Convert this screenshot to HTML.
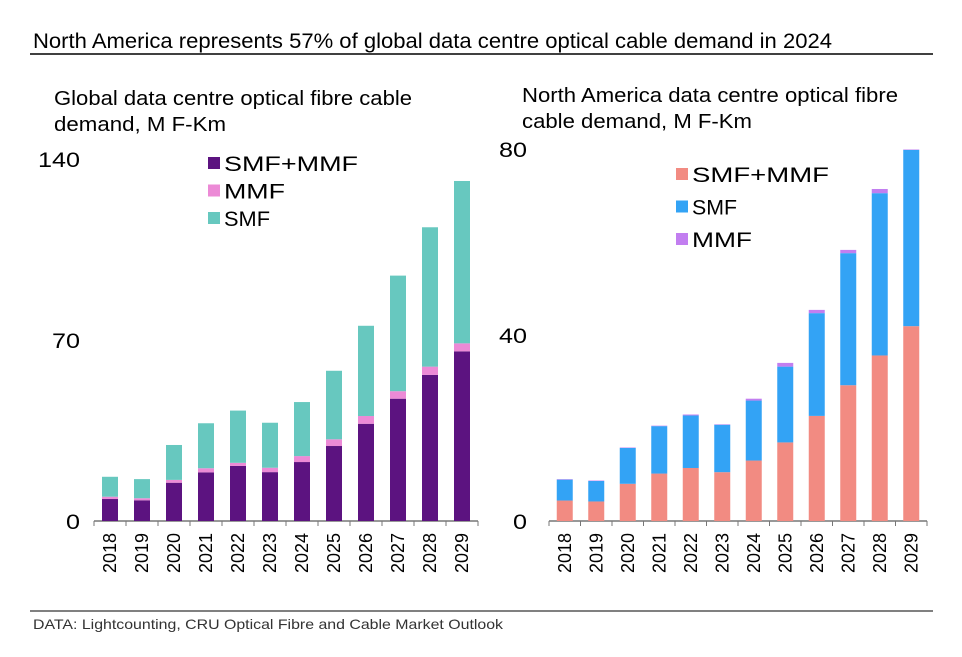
<!DOCTYPE html>
<html><head><meta charset="utf-8"><style>
body{margin:0;background:#fff;font-family:"Liberation Sans",Arial,sans-serif}
svg{display:block}
</style></head><body>
<svg id="c" width="962" height="657" xmlns="http://www.w3.org/2000/svg" font-family="Liberation Sans, Arial, sans-serif">
<text x="33" y="48" font-size="21" textLength="799" lengthAdjust="spacingAndGlyphs" fill="#000">North America represents 57% of global data centre optical cable demand in 2024</text>
<line x1="30" y1="54" x2="933" y2="54" stroke="#000" stroke-width="1.5"/>
<text x="54" y="105" font-size="20" textLength="358" lengthAdjust="spacingAndGlyphs">Global data centre optical fibre cable</text>
<text x="54" y="131" font-size="20" textLength="172" lengthAdjust="spacingAndGlyphs">demand, M F-Km</text>
<text x="522" y="102" font-size="20" textLength="376" lengthAdjust="spacingAndGlyphs">North America data centre optical fibre</text>
<text x="522" y="128" font-size="20" textLength="230" lengthAdjust="spacingAndGlyphs">cable demand, M F-Km</text>
<line x1="30" y1="611" x2="933" y2="611" stroke="#000" stroke-width="1"/>
<text x="33" y="629" font-size="14" textLength="470" lengthAdjust="spacingAndGlyphs" fill="#333">DATA: Lightcounting, CRU Optical Fibre and Cable Market Outlook</text>
<g id="left"></g><g id="right"></g>
</svg>
<script>
const years=["2018","2019","2020","2021","2022","2023","2024","2025","2026","2027","2028","2029"];
const globalBoth=[8.5,8.0,14.8,18.8,21.3,18.9,22.8,29.0,37.6,47.3,56.5,65.6];
const globalMMF=[0.9,0.8,1.1,1.6,1.2,1.7,2.3,2.6,3.0,2.9,3.2,3.1];
const globalSMF=[7.7,7.4,13.5,17.4,20.2,17.4,20.9,26.5,34.9,44.7,53.9,62.8];
const globalTicks=[0,70,140];
const naBoth=[4.4,4.2,8.0,10.2,11.4,10.5,13.0,16.9,22.6,29.2,35.6,41.9];
const naSMF=[4.5,4.4,7.7,10.2,11.3,10.2,12.9,16.3,22.1,28.4,34.9,37.9];
const naMMF=[0.1,0.1,0.1,0.1,0.2,0.1,0.4,0.8,0.7,0.7,0.9,0.1];
const naTicks=[0,40,80];
const NS="http://www.w3.org/2000/svg";
function mk(p,t,a){const e=document.createElementNS(NS,t);for(const k in a)e.setAttribute(k,a[k]);p.appendChild(e);return e;}
function chart(g,cfg){
  const y=v=>cfg.y0-(v/cfg.max)*(cfg.y0-cfg.yTop);
  const step=cfg.step, x0=cfg.x0;
  const ax=mk(g,'line',{x1:x0,y1:cfg.y0,x2:x0+step*years.length,y2:cfg.y0,stroke:'#777','stroke-width':1.5});
  
  
  for(let i=0;i<=years.length;i++){
    const t=mk(g,'line',{x1:x0+i*step,y1:cfg.y0,x2:x0+i*step,y2:cfg.y0+5,stroke:'#777','stroke-width':1});
    
    
  }
  cfg.ticks.forEach(v=>{
    const s=String(v);
    const t=mk(g,'text',{x:cfg.tx,y:y(v)+8,'font-size':21,'text-anchor':'end',textLength:s.length*14,lengthAdjust:'spacingAndGlyphs'});
    t.textContent=s;
    
    
  });
  years.forEach((yr,i)=>{
    const bx=x0+i*step+(step-cfg.bw)/2;
    let base=0;
    cfg.series.forEach(s=>{
      const v=s.data[i];
      const r=mk(g,'rect',{x:bx,y:y(base+v),width:cfg.bw,height:y(base)-y(base+v),fill:s.color});
      
      
      base+=v;
    });
    const cx=x0+i*step+step/2+6, cy=cfg.y0+12;
    const t=mk(g,'text',{x:cx,y:cy,'font-size':18,'text-anchor':'end',transform:'rotate(-90 '+cx+' '+cy+')'});
    t.textContent=yr;
    
    
  });
  cfg.legend.forEach((s,k)=>{
    const ly=cfg.ly+k*cfg.lstep;
    const r=mk(g,'rect',{x:cfg.lx,y:ly-6,width:12,height:12,fill:s.color});
    
    
    const t=mk(g,'text',{x:cfg.lx+16,y:ly+8,'font-size':21,textLength:s.w,lengthAdjust:'spacingAndGlyphs'});
    t.textContent=s.label;
    
    
  });
}
const pur='#5c1380',pink='#ec8ad6',teal='#67c8bf';
chart(document.getElementById('left'),{p:'global',y0:521,yTop:159,max:140,x0:94,step:32,bw:16,tx:80,ticks:globalTicks,
 series:[{key:'smf-mmf',data:globalBoth,color:pur},{key:'mmf',data:globalMMF,color:pink},{key:'smf',data:globalSMF,color:teal}],
 legend:[{label:'SMF+MMF',color:pur,w:134},{label:'MMF',color:pink,w:61},{label:'SMF',color:teal,w:46}],lx:208,ly:163,lstep:27.5});
const sal='#f28b82',blue='#33a3f5',lil='#c27ef0';
chart(document.getElementById('right'),{p:'na',y0:521,yTop:149,max:80,x0:549,step:31.5,bw:16,tx:527,ticks:naTicks,
 series:[{key:'smf-mmf',data:naBoth,color:sal},{key:'smf',data:naSMF,color:blue},{key:'mmf',data:naMMF,color:lil}],
 legend:[{label:'SMF+MMF',color:sal,w:137},{label:'SMF',color:blue,w:45},{label:'MMF',color:lil,w:60}],lx:676,ly:174,lstep:32.5});
</script>
</body></html>
